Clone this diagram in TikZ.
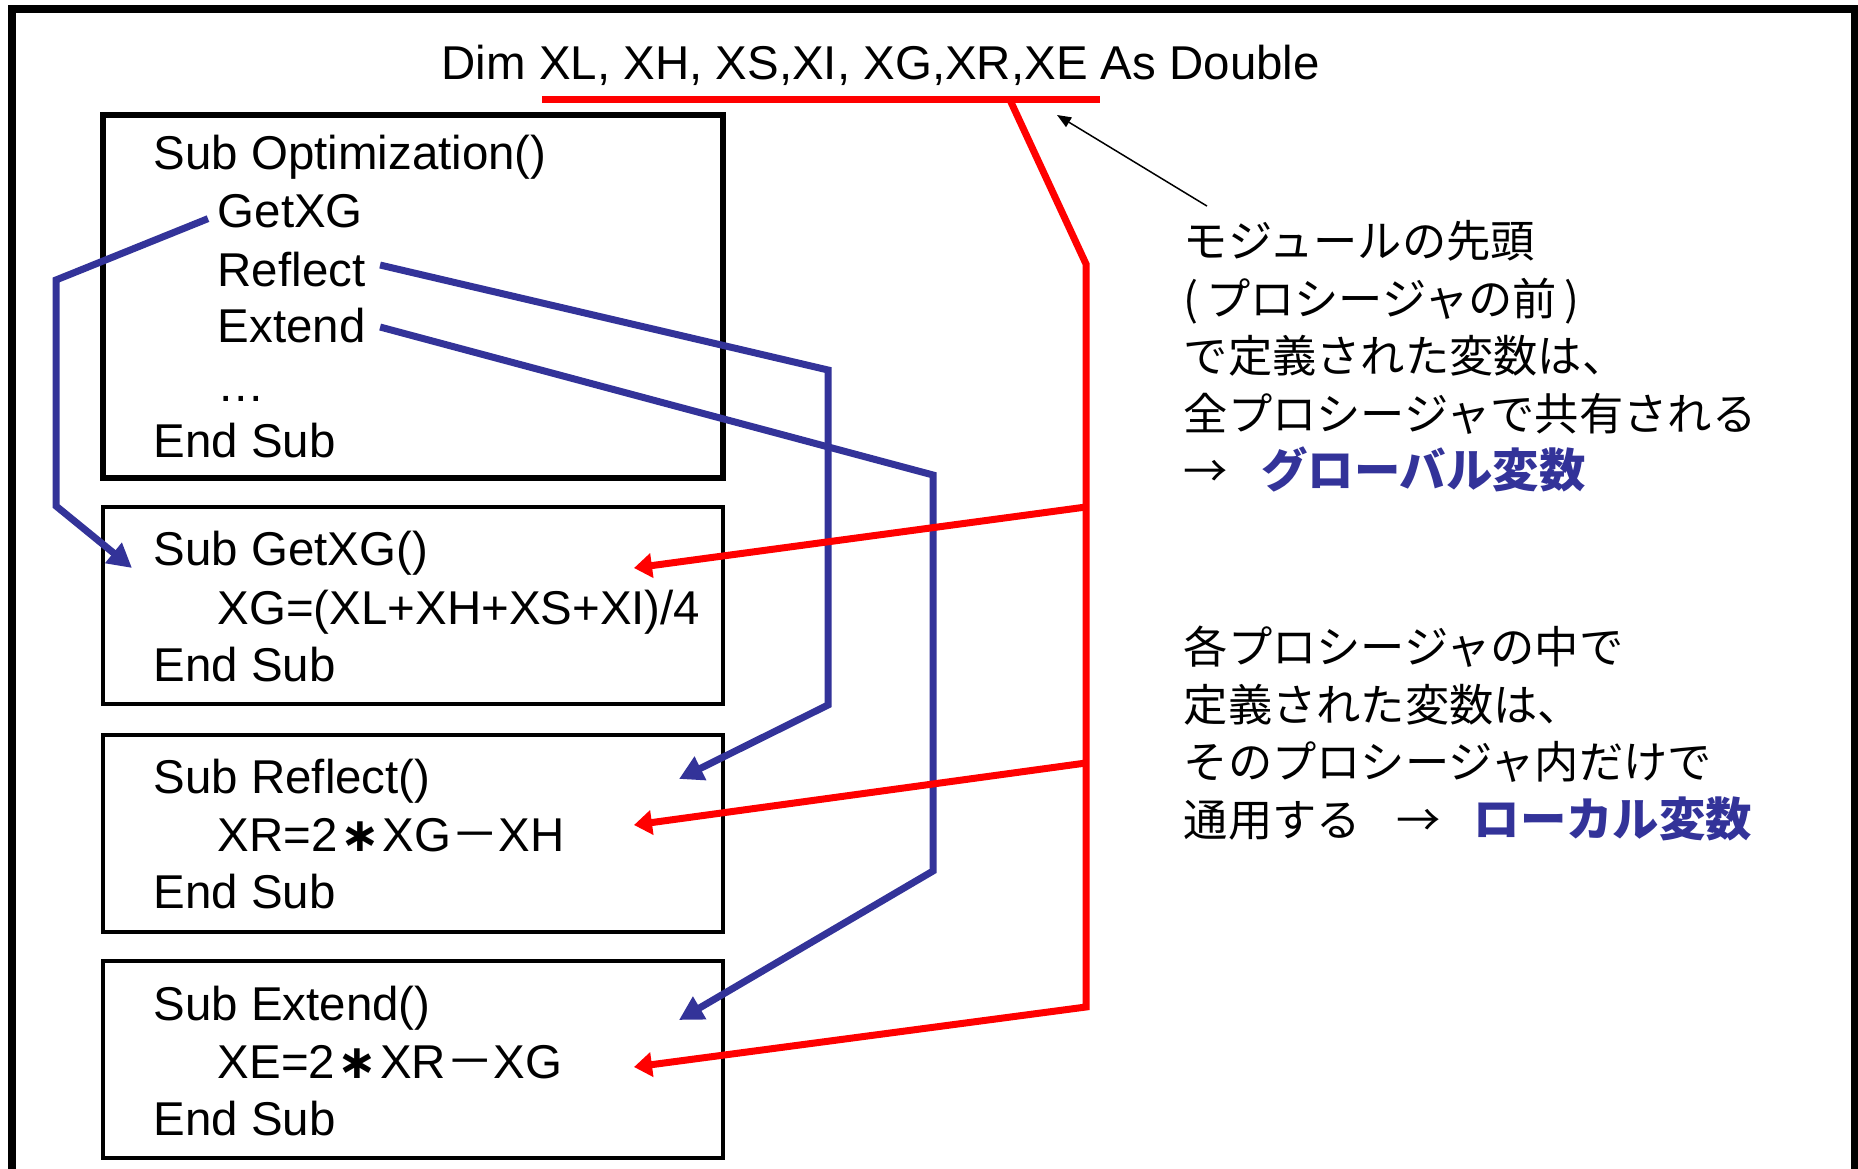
\documentclass[tikz,border=0pt]{standalone}
\usepackage{fontspec}
\setmainfont{Liberation Sans}
\newfontfamily\jpfont{Noto Sans CJK JP}
\newfontfamily\symfont{DejaVu Sans}
\usetikzlibrary{arrows.meta}

\definecolor{callblue}{RGB}{51,51,153}
\definecolor{scopered}{RGB}{255,0,0}

\newcommand{\mulsign}{\makebox[0.95em]{\symfont\bfseries ∗}}
\newcommand{\subsign}{{\jpfont －}}
\newcommand{\scopename}[1]{{\color{callblue}\fontsize{13.2}{15}\selectfont\bfseries #1}}

\tikzset{
  codeline/.style={anchor=base west,inner sep=0pt,font=\fontsize{13.5}{16}\selectfont},
  noteline/.style={anchor=base west,inner sep=0pt,font=\jpfont\fontsize{12.6}{15}\selectfont},
  subbox/.style={draw,line width=0.4mm,minimum width=62mm,minimum height=19.7mm,inner sep=0pt},
  callline/.style={callblue,line width=0.7mm,-{Triangle[length=2.4mm,width=2.5mm]}},
  scopeline/.style={scopered,line width=0.7mm},
  scopearrow/.style={scopeline,-{Triangle[length=1.8mm,width=2.4mm]}},
}

\begin{document}
\begin{tikzpicture}[x=0.1mm,y=-0.1mm]

      \useasboundingbox (0,0) rectangle (1858,1169);
      \draw[line width=0.8mm] (11.5,9) rectangle (1855,1220);

      \node[codeline] (dim) at (441,80) {Dim XL, XH, XS,XI, XG,XR,XE As Double};

      \node[subbox,line width=0.55mm,minimum height=36.3mm] (optbox) at (413,296.5) {};
      \node[subbox] (xgbox) at (413,606) {};
      \node[subbox] (refbox) at (413,833) {};
      \node[subbox] (extbox) at (413,1059.5) {};

      \node[codeline] (optsub) at (153,170) {Sub Optimization()};
      \node[codeline] (callxg) at (217,228) {GetXG};
      \node[codeline] (callref) at (217,287) {Reflect};
      \node[codeline] (callext) at (217,343) {Extend};
      \node[codeline] (calldots) at (217,402) {…};
      \node[codeline] (optend) at (153,458) {End Sub};

      \node[codeline] (xgsub) at (153,566) {Sub GetXG()};
      \node[codeline] (xgcalc) at (217,625) {XG=(XL+XH+XS+XI)/4};
      \node[codeline] (xgend) at (153,682) {End Sub};

      \node[codeline] (refsub) at (153,794) {Sub Reflect()};
      \node[codeline] (refcalc) at (217,851) {XR=2\mulsign XG\subsign XH};
      \node[codeline] (refend) at (153,908) {End Sub};

      \node[codeline] (extsub) at (153,1020) {Sub Extend()};
      \node[codeline] (extcalc) at (217,1078) {XE=2\mulsign XR\subsign XG};
      \node[codeline] (extend) at (153,1135) {End Sub};

      \node[noteline] (global1) at (1183,258) {モジュールの先頭};
      \node[noteline] (global2) at (1183,316) {(\,プロシージャの前\,)};
      \node[noteline] (global3) at (1183,373) {で定義された変数は、};
      \node[noteline] (global4) at (1183,431) {全プロシージャで共有される};
      \node[noteline] (global5) at (1183,488) {→\hspace{0.75em}\scopename{グローバル変数}};

      \node[noteline] (local1) at (1183,664) {各プロシージャの中で};
      \node[noteline] (local2) at (1183,722) {定義された変数は、};
      \node[noteline] (local3) at (1183,779) {そのプロシージャ内だけで};
      \node[noteline] (local4) at (1183,837) {通用する\hspace{0.8em}→\hspace{0.75em}\scopename{ローカル変数}};

      % calls from Optimization
      \coordinate (xgtip) at (132,568);
      \coordinate (reftip) at (679,779);
      \coordinate (exttip) at (679,1020);
      \draw[callline] ([shift={(-9,7)}]callxg.west) -- (56,280) -- (56,506) -- (xgtip);
      \draw[callline] ([shift={(14,-5)}]callref.east) -- (828,370) -- (828,705) -- (reftip);
      \draw[callline] ([shift={(14,1)}]callext.east) -- (933,475) -- (933,871) -- (exttip);

      % module level variables
      \coordinate (ulstart) at (542,99.5);
      \coordinate (ulend) at (1100,99.5);
      \draw[scopeline] (ulstart) -- (ulend);
      \draw[scopearrow] (1010,100) -- (1086,264) -- (1086,1007) -- (634,1067);
      \draw[scopearrow] (1086,507) -- (634,568);
      \draw[scopearrow] (1086,763) -- (634,825);

      \draw[line width=0.15mm,-{Triangle[length=1.4mm,width=1.1mm]}] ([shift={(24,-14)}]global1.north west) -- (1057,115);

    \end{tikzpicture}
\end{document}
